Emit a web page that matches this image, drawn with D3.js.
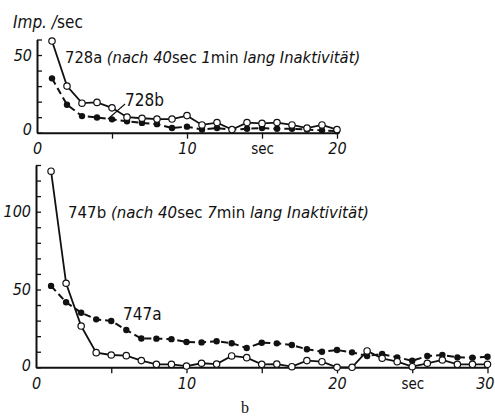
<!DOCTYPE html>
<html>
<head>
<meta charset="utf-8">
<script src="https://cdn.jsdelivr.net/npm/d3@7"></script>
<style>
  html, body { margin: 0; padding: 0; background: #fff; }
  svg { display: block; }
  .lbl { font-family: "DejaVu Sans Condensed", "DejaVu Sans", sans-serif; font-stretch: condensed; fill: #111; }
  .it { font-style: italic; }
</style>
</head>
<body>
<svg id="chart" width="495" height="416"></svg>
<script>
// Upper panel: time in seconds (1..20), impulses per second
const secondsTop = d3.range(1, 21);
const series728a = [59, 30, 19, 19.5, 16, 10, 9.3, 8.8, 8.8, 11, 5, 6.5, 2, 6.5, 6, 6.5, 5, 3, 5, 2];
const series728b = [35, 18, 10.7, 9.8, 8.6, 7.3, 6.3, 5.5, 3, 3.9, 2, 3, 2, 2.5, 3, 2.5, 2.5, 2, 1.5, 1];

// Lower panel: time in seconds (1..30)
const secondsBottom = d3.range(1, 31);
const series747a = [52.3, 41.8, 35.1, 30.8, 29.8, 24, 18.5, 18.4, 18.1, 16.3, 16, 16.7, 15.5, 12.4, 15.8, 15.4, 14.3, 11.6, 10, 11.1, 9.6, 7.3, 8.5, 6.4, 4.2, 7.3, 7.9, 6.4, 6.2, 6.8];
const series747b = [126, 54, 26.5, 9.4, 7.9, 7.5, 4.3, 1.9, 1.9, 0.8, 2.6, 2.1, 7.3, 6.2, 1.9, 2.1, 0.4, 4.3, 3.6, 0, 0, 10.5, 5.8, 3.6, 0.4, 2.6, 4.7, 1.9, 1.9, 1.9];

// Tick labels
const yLabelsTop = {0: "0", 50: "50"};
const xLabelsTop = {0: "0", 10: "10", 15: "sec", 20: "20"};
const yLabelsBottom = {0: "0", 50: "50", 100: "100"};
const xLabelsBottom = {0: "0", 10: "10", 20: "20", 25: "sec", 30: "30"};

const svg = d3.select("#chart");

function panel(cfg) {
  const g = svg.append("g");
  const x = d3.scaleLinear().domain(cfg.xDomain).range(cfg.xRange);
  const y = d3.scaleLinear().domain(cfg.yDomain).range(cfg.yRange);

  // y axis with inward ticks every 10
  const yAxis = d3.axisLeft(y)
    .tickValues(d3.range(cfg.yDomain[0], cfg.yDomain[1] + 1, 10))
    .tickSize(-5).tickSizeOuter(0).tickPadding(5)
    .tickFormat(d => cfg.yLabels[d] || "");
  const ya = g.append("g").attr("transform", `translate(${cfg.xRange[0]},0)`).call(yAxis);

  // x axis with downward ticks every 5
  const xAxis = d3.axisBottom(x)
    .tickValues(d3.range(cfg.xDomain[0], cfg.xDomain[1] + 1, 5))
    .tickSize(6).tickSizeOuter(0).tickPadding(4)
    .tickFormat(d => cfg.xLabels[d] || "");
  const xa = g.append("g").attr("transform", `translate(0,${cfg.yRange[0]})`).call(xAxis);

  [ya, xa].forEach(a => {
    a.select(".domain").attr("stroke", "#111").attr("stroke-width", 2);
    a.selectAll(".tick line").attr("stroke", "#111").attr("stroke-width", 1.3);
    a.selectAll(".tick text").attr("class", "lbl it").attr("font-size", 16).attr("fill", "#111");
  });
  xa.select(".tick line").remove();
  xa.selectAll(".tick text").filter(d => cfg.xLabels[d] === "sec")
    .attr("class", "lbl").attr("font-size", 15).attr("dy", "0.75em");
  // last label sits flush against the right edge
  xa.selectAll(".tick text").filter(d => d === cfg.xDomain[1] && cfg.flushLast)
    .attr("text-anchor", "end").attr("x", 494 - x(d3.max(cfg.xDomain)));
  ya.selectAll(".tick text").filter(d => d === 0).attr("dy", cfg.zeroDy);

  const line = d3.line().x((d, i) => x(cfg.t[i])).y(d => y(d));

  // dashed series with filled dots
  g.append("path").datum(cfg.dashed).attr("d", line)
    .attr("fill", "none").attr("stroke", "#111").attr("stroke-width", 2)
    .attr("stroke-dasharray", "7,4");
  g.selectAll(".fdot").data(cfg.dashed).join("circle")
    .attr("cx", (d, i) => x(cfg.t[i])).attr("cy", d => y(d)).attr("r", 3.2)
    .attr("fill", "#111");

  // solid series with open dots
  g.append("path").datum(cfg.solid).attr("d", line)
    .attr("fill", "none").attr("stroke", "#111").attr("stroke-width", 1.8);
  g.selectAll(".odot").data(cfg.solid).join("circle")
    .attr("cx", (d, i) => x(cfg.t[i])).attr("cy", d => y(d)).attr("r", 3.2)
    .attr("fill", "#fff").attr("stroke", "#111").attr("stroke-width", 1.2);

  return {g, x, y};
}

const upperPanel = panel({
  t: secondsTop, solid: series728a, dashed: series728b,
  xDomain: [0, 20], xRange: [37, 337],
  yDomain: [0, 60], yRange: [132.7, 39.5],
  yLabels: yLabelsTop, xLabels: xLabelsTop, zeroDy: "0.1em", flushLast: false
});

const lowerPanel = panel({
  t: secondsBottom, solid: series747b, dashed: series747a,
  xDomain: [0, 30], xRange: [36, 487.5],
  yDomain: [0, 130], yRange: [367.3, 165],
  yLabels: yLabelsBottom, xLabels: xLabelsBottom, zeroDy: "0.2em", flushLast: true
});

// Axis unit
const unit = svg.append("text").attr("class", "lbl").attr("x", 13).attr("y", 28).attr("font-size", 17);
unit.append("tspan").attr("class", "lbl it").text("Imp. /");
unit.append("tspan").text("sec");

// Panel titles
function title(x, y, size, parts) {
  const t = svg.append("text").attr("class", "lbl").attr("x", x).attr("y", y).attr("font-size", size);
  parts.forEach(([s, italic]) => t.append("tspan").attr("class", italic ? "lbl it" : "lbl").text(s));
}
title(65, 63, 16.4, [["728a ", false], ["(nach 40", true], ["sec", false], [" 1", true], ["min", false], [" lang Inaktivität)", true]]);
title(68, 218, 16.7, [["747b ", false], ["(nach 40", true], ["sec", false], ["  7", true], ["min", false], [" lang Inaktivität)", true]]);

// Series labels
svg.append("text").attr("class", "lbl").attr("x", 125).attr("y", 106).attr("font-size", 17).text("728b");
svg.append("line")
  .attr("x1", upperPanel.x(4.73)).attr("y1", upperPanel.y(8.8))
  .attr("x2", upperPanel.x(5.87)).attr("y2", upperPanel.y(18.5))
  .attr("stroke", "#111").attr("stroke-width", 1.1);
svg.append("text").attr("class", "lbl").attr("x", 123).attr("y", 320).attr("font-size", 17).text("747a");

// Figure part letter
svg.append("text").attr("x", 245).attr("y", 413).attr("text-anchor", "middle")
  .attr("font-family", "Liberation Serif, serif").attr("font-size", 16).attr("fill", "#111").text("b");
</script>
</body>
</html>
